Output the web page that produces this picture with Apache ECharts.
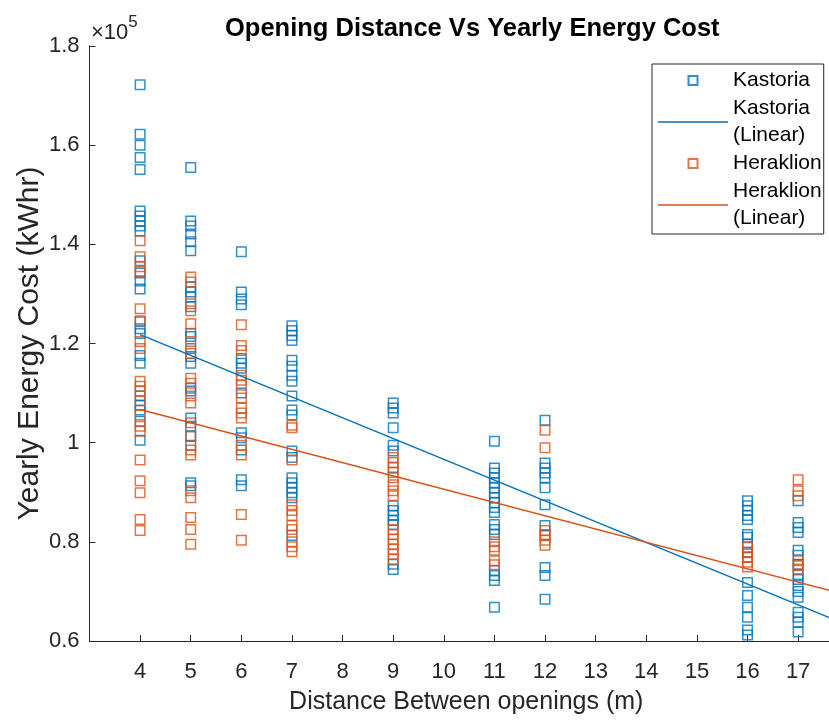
<!DOCTYPE html>
<html>
<head>
<meta charset="utf-8">
<script src="https://cdn.jsdelivr.net/npm/echarts@6/dist/echarts.min.js"></script>
<style>
html,body{margin:0;padding:0;background:#fff;}
#chart{width:829px;height:720px;}
</style>
</head>
<body>
<div id="chart"></div>
<script>
// Opening distance (m) for each column of points
const distances = [4, 5, 6, 7, 9, 11, 12, 16, 17];

// Yearly energy cost, in units of 10^5 kWhr, one list per distance
const kastoria = [
  [1.722, 1.622, 1.600, 1.575, 1.551, 1.467, 1.457, 1.447, 1.437, 1.427, 1.367, 1.342, 1.326, 1.310, 1.244, 1.230, 1.220, 1.176, 1.160, 1.094, 1.076, 1.066, 1.043, 1.005],
  [1.555, 1.447, 1.437, 1.421, 1.405, 1.387, 1.314, 1.304, 1.294, 1.274, 1.220, 1.214, 1.190, 1.174, 1.160, 1.110, 1.104, 1.050, 1.033, 1.013, 0.995, 0.919, 0.913],
  [1.385, 1.304, 1.290, 1.278, 1.170, 1.160, 1.150, 1.100, 1.020, 1.010, 0.985, 0.925, 0.913],
  [1.236, 1.226, 1.216, 1.206, 1.166, 1.154, 1.136, 1.124, 1.094, 1.066, 1.056, 0.983, 0.970, 0.929, 0.919, 0.909, 0.899, 0.889, 0.813],
  [1.080, 1.070, 1.060, 1.030, 0.995, 0.983, 0.950, 0.873, 0.863, 0.853, 0.843, 0.835, 0.755, 0.744],
  [1.003, 0.949, 0.939, 0.929, 0.919, 0.909, 0.899, 0.889, 0.879, 0.869, 0.859, 0.835, 0.825, 0.815, 0.742, 0.732, 0.722, 0.668],
  [1.045, 0.959, 0.949, 0.939, 0.929, 0.909, 0.875, 0.833, 0.813, 0.748, 0.732, 0.684],
  [0.883, 0.873, 0.863, 0.853, 0.845, 0.815, 0.809, 0.795, 0.779, 0.769, 0.718, 0.692, 0.668, 0.648, 0.622, 0.612],
  [0.883, 0.839, 0.829, 0.819, 0.783, 0.773, 0.755, 0.734, 0.724, 0.712, 0.700, 0.688, 0.658, 0.648, 0.638, 0.618]
];
const heraklion = [
  [1.407, 1.375, 1.355, 1.345, 1.270, 1.246, 1.204, 1.190, 1.124, 1.114, 1.104, 1.084, 1.056, 1.033, 1.023, 0.965, 0.923, 0.899, 0.845, 0.823],
  [1.334, 1.324, 1.280, 1.266, 1.240, 1.204, 1.180, 1.130, 1.120, 1.094, 1.080, 1.040, 1.013, 0.985, 0.975, 0.903, 0.889, 0.849, 0.825, 0.795],
  [1.238, 1.196, 1.186, 1.136, 1.126, 1.116, 1.090, 1.070, 1.060, 1.050, 0.995, 0.975, 0.855, 0.803],
  [1.035, 1.030, 0.965, 0.875, 0.863, 0.853, 0.833, 0.825, 0.800, 0.790, 0.780],
  [0.970, 0.960, 0.940, 0.929, 0.915, 0.903, 0.893, 0.825, 0.815, 0.805, 0.795, 0.785, 0.775, 0.765],
  [0.800, 0.790, 0.783, 0.762, 0.754],
  [1.025, 0.990, 0.823, 0.815, 0.803, 0.793],
  [0.789, 0.779, 0.769, 0.759, 0.749],
  [0.925, 0.903, 0.893, 0.762, 0.752, 0.745]
];

// Linear fit end points [distance, cost]
const kastoriaFit = [[4, 1.218], [18, 0.631]];
const heraklionFit = [[4, 1.067], [18, 0.692]];

// Tick labels
const xTickValues = [4, 5, 6, 7, 8, 9, 10, 11, 12, 13, 14, 15, 16, 17];
const yTickLabels = ['0.6', '0.8', '1', '1.2', '1.4', '1.6', '1.8'];

const seriesNames = ['Kastoria', 'Kastoria\n(Linear)', 'Heraklion', 'Heraklion\n(Linear)'];
const blue = '#0072BD';
const orange = '#D95319';
const axisColor = '#262626';
const font = 'Liberation Sans, Arial, Helvetica, sans-serif';

function toPoints(groups) {
  const pts = [];
  groups.forEach((vals, i) => vals.forEach(v => pts.push([distances[i], v])));
  return pts;
}

const squareIcon = 'path://M0,0L10,0L10,10L0,10Z';
const lineIcon = 'path://M0,0L70,0L70,1.5L0,1.5Z';

const chart = echarts.init(document.getElementById('chart'), null, {renderer: 'canvas'});
chart.setOption({
  animation: false,
  backgroundColor: '#fff',
  title: {
    text: 'Opening Distance Vs Yearly Energy Cost',
    left: 225, top: 16, padding: 0,
    textStyle: {fontFamily: font, fontWeight: 'bold', fontSize: 25.5, color: '#000'}
  },
  graphic: [{
    type: 'text', left: 91, top: 14,
    style: {
      text: '{a|×10}{b|5}',
      rich: {
        a: {fontFamily: font, fontSize: 22, fill: axisColor, verticalAlign: 'bottom', lineHeight: 30},
        b: {fontFamily: font, fontSize: 17, fill: axisColor, verticalAlign: 'top', lineHeight: 30, padding: [0,0,12,0]}
      }
    }
  }],
  legend: {
    orient: 'vertical',
    left: 652, top: 64,
    padding: [3, 2, 2, 6],
    itemWidth: 70, itemHeight: 9, itemGap: 1,
    borderColor: axisColor, borderWidth: 1,
    backgroundColor: '#fff',
    textStyle: {fontFamily: font, fontSize: 21, color: '#000', lineHeight: 27},
    selectedMode: false,
    data: [
      {name: seriesNames[0], icon: squareIcon},
      {name: seriesNames[1], icon: lineIcon, itemStyle: {color: blue, borderWidth: 0}},
      {name: seriesNames[2], icon: squareIcon},
      {name: seriesNames[3], icon: lineIcon, itemStyle: {color: orange, borderWidth: 0}}
    ]
  },
  grid: {left: 89.5, right: 0, top: 46, bottom: 76, containLabel: false},
  xAxis: {
    type: 'value', min: 3, max: 17.61,
    name: 'Distance Between openings (m)',
    nameLocation: 'middle', nameGap: 49,
    nameTextStyle: {fontFamily: font, fontSize: 25, color: axisColor, padding: [0, 0, 0, 14]},
    axisLine: {show: true, lineStyle: {color: axisColor, width: 1}},
    axisTick: {show: true, inside: true, length: 6, customValues: xTickValues, lineStyle: {color: axisColor}},
    axisLabel: {customValues: xTickValues, margin: 20, fontFamily: font, fontSize: 22, color: axisColor},
    splitLine: {show: false}
  },
  yAxis: {
    type: 'value', min: 0.6, max: 1.8, interval: 0.2,
    name: 'Yearly Energy Cost (kWhr)',
    nameLocation: 'middle', nameGap: 45, nameMoveOverlap: false,
    nameTextStyle: {fontFamily: font, fontSize: 30, color: axisColor},
    axisLine: {show: true, lineStyle: {color: axisColor, width: 1}},
    axisTick: {show: true, inside: true, length: 6, lineStyle: {color: axisColor}},
    axisLabel: {
      margin: 10, fontFamily: font, fontSize: 22, color: axisColor,
      formatter: v => yTickLabels[Math.round((v - 0.6) / 0.2)]
    },
    splitLine: {show: false}
  },
  series: [
    {
      name: seriesNames[0], type: 'scatter', symbol: 'rect', symbolSize: 9.5,
      itemStyle: {color: 'rgba(0,0,0,0)', borderColor: blue, borderWidth: 1.5},
      data: toPoints(kastoria)
    },
    {
      name: seriesNames[1], type: 'line', symbol: 'none', showSymbol: false,
      lineStyle: {color: blue, width: 1.5}, itemStyle: {color: blue},
      data: kastoriaFit
    },
    {
      name: seriesNames[2], type: 'scatter', symbol: 'rect', symbolSize: 9.5,
      itemStyle: {color: 'rgba(0,0,0,0)', borderColor: orange, borderWidth: 1.5},
      data: toPoints(heraklion)
    },
    {
      name: seriesNames[3], type: 'line', symbol: 'none', showSymbol: false,
      lineStyle: {color: orange, width: 1.5}, itemStyle: {color: orange},
      data: heraklionFit
    }
  ]
});
</script>
</body>
</html>
